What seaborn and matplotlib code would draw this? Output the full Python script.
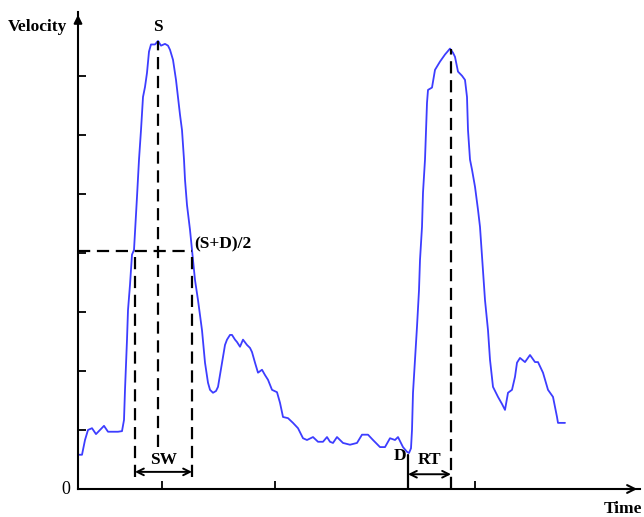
import numpy as np
import pandas as pd
import matplotlib
matplotlib.use("Agg")
import matplotlib.pyplot as plt
import seaborn as sns

# velocity trace (arbitrary units)
time = [0, 4, 7, 10, 14, 18, 22, 26, 30, 34, 40, 44, 46, 47, 49, 50, 52, 54, 56, 58,
        59, 61, 63, 65, 67, 69, 71, 73, 77, 80, 83, 87, 90, 92, 95, 98, 100, 102, 104, 106,
        107, 109, 112, 114, 117, 120, 124, 127, 130, 132, 135, 138, 140, 142, 144, 147, 149, 152, 154, 157,
        159, 162, 165, 169, 172, 174, 177, 180, 184, 187, 190, 194, 199, 202, 205, 210, 215, 220, 225, 229,
        235, 240, 245, 249, 252, 255, 259, 265, 272, 279, 284, 290, 295, 302, 307, 312, 317, 320, 325, 329,
        331, 333, 334, 335, 337, 339, 341, 342, 344, 345, 347, 348, 349, 350, 354, 357, 362, 367, 372, 375,
        377, 380, 384, 387, 389, 390, 392, 394, 397, 400, 402, 405, 407, 410, 412, 415, 420, 424, 427, 430,
        434, 437, 439, 442, 447, 452, 457, 460, 465, 470, 475, 479, 480, 487]
velocity = [0.58, 0.58, 0.83, 1.00, 1.03, 0.93, 1.00, 1.07, 0.97, 0.97, 0.97, 0.98, 1.17, 1.68, 2.53, 3.03, 3.46, 3.97, 4.05, 4.64,
            4.95, 5.58, 6.08, 6.64, 6.81, 7.05, 7.41, 7.53, 7.53, 7.59, 7.51, 7.54, 7.51, 7.44, 7.27, 6.93, 6.64, 6.34, 6.08, 5.58,
            5.24, 4.81, 4.39, 4.05, 3.54, 3.20, 2.69, 2.14, 1.80, 1.68, 1.63, 1.66, 1.73, 1.93, 2.14, 2.44, 2.53, 2.61, 2.61, 2.53,
            2.49, 2.41, 2.53, 2.44, 2.39, 2.32, 2.14, 1.97, 2.02, 1.93, 1.85, 1.68, 1.64, 1.46, 1.22, 1.20, 1.12, 1.03, 0.86, 0.83,
            0.88, 0.80, 0.80, 0.88, 0.80, 0.78, 0.88, 0.78, 0.75, 0.78, 0.92, 0.92, 0.83, 0.71, 0.71, 0.86, 0.83, 0.88, 0.71, 0.63,
            0.61, 0.69, 1.00, 1.63, 2.19, 2.75, 3.37, 3.88, 4.44, 5.02, 5.58, 6.08, 6.54, 6.76, 6.80, 7.10, 7.24, 7.36, 7.46, 7.39,
            7.32, 7.07, 7.00, 6.93, 6.64, 6.08, 5.58, 5.41, 5.12, 4.73, 4.44, 3.71, 3.20, 2.69, 2.19, 1.73, 1.56, 1.44, 1.34, 1.63,
            1.68, 1.90, 2.14, 2.22, 2.15, 2.27, 2.15, 2.15, 1.97, 1.68, 1.56, 1.22, 1.12, 1.12]

y_ticks = [1, 2, 3, 4, 5, 6, 7]
x_ticks = [84, 197, 397]

# annotation landmarks
s_time, s_vel = 80, 7.59
half_level = 4.03
sw_left, sw_right = 57, 114
d_time, d_vel = 330, 0.58
peak2_time, peak2_vel = 373, 7.46

sns.set_theme(style="white")
plt.rcParams['font.family'] = ['Liberation Serif', 'DejaVu Serif']

df = pd.DataFrame({'Time': time, 'Velocity': velocity})

fig = plt.figure(figsize=(6.44, 5.17), dpi=100)
ax = fig.add_axes([78 / 644, 28 / 517, 562 / 644, 477 / 517])
sns.lineplot(data=df, x='Time', y='Velocity', color='#3d3dff', lw=1.3, ax=ax)
ax.set_xlim(0, 562)
ax.set_ylim(0, 8.08)
ax.set_xlabel('')
ax.set_ylabel('')

for side in ['top', 'right']:
    ax.spines[side].set_visible(False)
for side in ['left', 'bottom']:
    ax.spines[side].set_color('black')
    ax.spines[side].set_linewidth(1.5)

# arrow heads on the axes
ax.annotate('', xy=(0, 1.0), xytext=(0, 0.97), xycoords='axes fraction',
            arrowprops=dict(arrowstyle='-|>', color='black', lw=1.5, mutation_scale=12))
ax.annotate('', xy=(1.0, 0), xytext=(0.97, 0), xycoords='axes fraction',
            arrowprops=dict(arrowstyle='->', color='black', lw=1.5, mutation_scale=14))

ax.set_yticks(y_ticks)
ax.set_xticks(x_ticks)
ax.set_yticklabels([])
ax.set_xticklabels([])
ax.tick_params(direction='in', length=6, width=1.3, color='black', left=True, bottom=True)

dash = dict(color='black', lw=1.6, linestyle=(0, (5.5, 3)))
ax.plot([0, sw_right], [half_level, half_level], **dash)
ax.plot([sw_left, sw_left], [0.2, half_level], **dash)
ax.plot([sw_right, sw_right], [0.2, half_level], **dash)
ax.plot([s_time, s_time], [0.71, s_vel], **dash)
ax.plot([peak2_time, peak2_time], [0, peak2_vel], **dash)
ax.plot([d_time, d_time], [0, d_vel], color='black', lw=1.6)

ax.annotate('', xy=(sw_left, 0.29), xytext=(sw_right, 0.29),
            arrowprops=dict(arrowstyle='<->', color='black', lw=1.4, shrinkA=0, shrinkB=0))
ax.annotate('', xy=(d_time, 0.25), xytext=(peak2_time, 0.25),
            arrowprops=dict(arrowstyle='<->', color='black', lw=1.4, shrinkA=0, shrinkB=0))

tkw = dict(fontsize=12.5, fontweight='bold', color='black')
ax.text(s_time, 7.83, 'S', ha='center', va='center', **tkw)
ax.text(116, 4.14, '(S+D)/2', ha='left', va='center', **tkw)
ax.text((sw_left + sw_right) / 2, 0.49, 'SW', ha='center', va='center', **tkw)
ax.text(322, 0.56, 'D', ha='center', va='center', **tkw)
ax.text((d_time + peak2_time) / 2, 0.49, 'RT', ha='center', va='center', **tkw)

fig.text(8 / 644, 1 - 27 / 517, 'Velocity', ha='left', va='center', **tkw)
fig.text(66 / 644, 28 / 517, '0', ha='center', va='center', fontsize=13, color='black')
fig.text(642 / 644, 8 / 517, 'Time', ha='right', va='center', **tkw)

fig.savefig('out.png', dpi=100)
